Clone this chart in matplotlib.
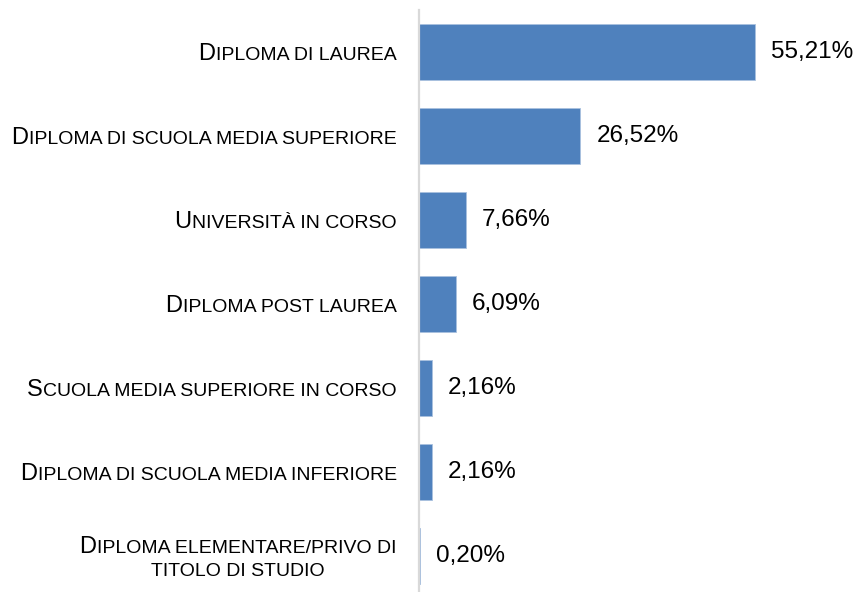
import matplotlib
matplotlib.use("Agg")
import matplotlib.pyplot as plt
from matplotlib.offsetbox import TextArea, HPacker, VPacker, AnnotationBbox

# -----------------------------
# Data
# -----------------------------
categories = [
    "Diploma di laurea",
    "Diploma di scuola media superiore",
    "Università in corso",
    "Diploma post laurea",
    "Scuola media superiore in corso",
    "Diploma di scuola media inferiore",
    "Diploma elementare/privo di\ntitolo di studio",
]
values = [55.21, 26.52, 7.66, 6.09, 2.16, 2.16, 0.20]
value_labels = ["55,21%", "26,52%", "7,66%", "6,09%", "2,16%", "2,16%", "0,20%"]

plt.rcParams['font.family'] = ['Liberation Sans', 'DejaVu Sans']

BIG = 17
SMALL = 14


def small_caps_line(line):
    # upper case letters stay big, lower case letters become small capitals
    runs = []
    cur, cur_big = "", None
    for ch in line:
        is_big = ch.isupper()
        if cur_big is None or is_big == cur_big or ch == " ":
            if cur_big is None:
                cur_big = is_big
            cur += ch
        else:
            runs.append((cur, cur_big))
            cur, cur_big = ch, is_big
    if cur:
        runs.append((cur, cur_big))
    boxes = [
        TextArea(txt.upper(), textprops=dict(fontsize=BIG if big else SMALL, color="black"))
        for txt, big in runs
    ]
    return HPacker(children=boxes, align="baseline", pad=0, sep=0.5)


fig = plt.figure(figsize=(8.54, 5.92), dpi=100)
ax = fig.add_axes([0.4906, 0.0, 0.5094, 0.983])

y = list(range(len(categories)))
bars = ax.barh(y, values, height=0.66, color="#4f81bd", edgecolor="#a9c1df", linewidth=0.6)

ax.set_ylim(6.43, -0.5)
ax.set_xlim(0, 71.5)

for s in ["top", "right", "bottom"]:
    ax.spines[s].set_visible(False)
ax.spines["left"].set_color("#d9d9d9")
ax.spines["left"].set_linewidth(1.6)
ax.set_xticks([])
ax.set_yticks([])

# value labels
for yi, v, lab in zip(y, values, value_labels):
    ax.annotate(lab, xy=(v, yi), xytext=(11.5, 0), textcoords="offset points",
                ha="left", va="center", fontsize=17.5, color="black")

# category labels in small caps
for yi, cat in zip(y, categories):
    lines = [small_caps_line(l) for l in cat.split("\n")]
    if len(lines) == 1:
        box = lines[0]
    else:
        box = VPacker(children=lines, align="center", pad=0, sep=3)
    ab = AnnotationBbox(box, xy=(0, yi), xycoords=("axes fraction", "data"),
                        xybox=(-16, -1.5), boxcoords="offset points",
                        box_alignment=(1, 0.5), frameon=False, pad=0)
    ax.add_artist(ab)

fig.savefig("out.png", dpi=100)
